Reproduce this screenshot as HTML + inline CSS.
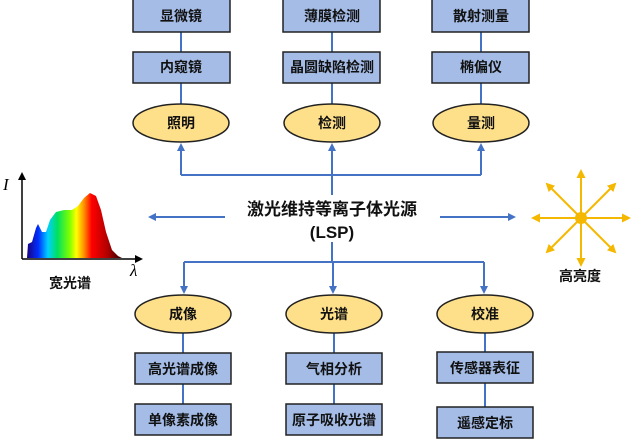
<!DOCTYPE html>
<html><head><meta charset="utf-8"><style>
body{margin:0;background:#fff;}
svg text{font-family:"Liberation Sans","Noto Sans CJK SC",sans-serif;font-weight:bold;}
</style></head><body>
<svg width="639" height="439" viewBox="0 0 639 439" xmlns="http://www.w3.org/2000/svg">
<defs>
<marker id="ab" markerWidth="8" markerHeight="8" refX="6" refY="4" orient="auto" markerUnits="userSpaceOnUse"><path d="M0,0 L8,4 L0,8 z" fill="#4472C4"/></marker>
<marker id="ay" markerWidth="9" markerHeight="9" refX="7" refY="4.5" orient="auto" markerUnits="userSpaceOnUse"><path d="M0,0 L9,4.5 L0,9 z" fill="#F5B800"/></marker>
<marker id="ak" markerWidth="8" markerHeight="8" refX="6" refY="4" orient="auto" markerUnits="userSpaceOnUse"><path d="M0,0 L8,4 L0,8 z" fill="#000"/></marker>
<linearGradient id="sp" x1="0" x2="1" y1="0" y2="0">
<stop offset="0" stop-color="#1a0080"/><stop offset="0.12" stop-color="#0030ff"/><stop offset="0.22" stop-color="#00d0ff"/><stop offset="0.32" stop-color="#00e060"/><stop offset="0.45" stop-color="#80ff00"/><stop offset="0.52" stop-color="#ffff00"/><stop offset="0.6" stop-color="#ff9000"/><stop offset="0.68" stop-color="#ff0000"/><stop offset="0.85" stop-color="#b00000"/><stop offset="1" stop-color="#300000"/></linearGradient>
</defs>
<g stroke="#4472C4" stroke-width="2" fill="none">
<line x1="181" y1="32" x2="181" y2="104"/><line x1="332" y1="32" x2="332" y2="104"/><line x1="481" y1="32" x2="481" y2="104"/>
<polyline points="332,195 332,175"/>
<line x1="181" y1="175" x2="481" y2="175"/>
<line x1="181" y1="175" x2="181" y2="145" marker-end="url(#ab)"/>
<line x1="332" y1="175" x2="332" y2="145" marker-end="url(#ab)"/>
<line x1="481" y1="175" x2="481" y2="145" marker-end="url(#ab)"/>
<line x1="225" y1="217" x2="150" y2="217" marker-end="url(#ab)"/>
<line x1="440" y1="217" x2="514" y2="217" marker-end="url(#ab)"/>
<line x1="332" y1="242" x2="332" y2="262"/>
<line x1="184" y1="262" x2="484" y2="262"/>
<line x1="184" y1="262" x2="184" y2="292" marker-end="url(#ab)"/>
<line x1="333" y1="262" x2="333" y2="292" marker-end="url(#ab)"/>
<line x1="484" y1="262" x2="484" y2="292" marker-end="url(#ab)"/>
<line x1="183" y1="333" x2="183" y2="420"/><line x1="334" y1="333" x2="334" y2="420"/><line x1="485" y1="333" x2="485" y2="420"/>
</g>
<g fill="#A4BCE6" stroke="#222" stroke-width="1.5">
<rect x="133" y="-1" width="97" height="33"/><rect x="283" y="-1" width="97" height="33"/><rect x="432" y="-1" width="97" height="33"/>
<rect x="133" y="52" width="97" height="31"/><rect x="283" y="52" width="97" height="31"/><rect x="432" y="52" width="97" height="31"/>
<rect x="135" y="353" width="96" height="31"/><rect x="286" y="353" width="96" height="31"/><rect x="437" y="352" width="96" height="31"/>
<rect x="135" y="404" width="96" height="31"/><rect x="286" y="404" width="96" height="31"/><rect x="437" y="407" width="96" height="31"/>
</g>
<g fill="#FFE08A" stroke="#222" stroke-width="1.5">
<ellipse cx="181" cy="123" rx="48" ry="19"/><ellipse cx="332" cy="123" rx="48" ry="19"/><ellipse cx="481" cy="123" rx="48" ry="19"/>
<ellipse cx="183" cy="314" rx="48" ry="19"/><ellipse cx="334" cy="314" rx="48" ry="19"/><ellipse cx="485" cy="314" rx="48" ry="19"/>
</g>
<g font-size="14" text-anchor="middle" fill="#111">
<text x="181" y="21">显微镜</text><text x="332" y="21">薄膜检测</text><text x="481" y="21">散射测量</text>
<text x="181" y="72">内窥镜</text><text x="332" y="72">晶圆缺陷检测</text><text x="481" y="72">椭偏仪</text>
<text x="181" y="128">照明</text><text x="332" y="128">检测</text><text x="481" y="128">量测</text>
<text x="183" y="319">成像</text><text x="334" y="319">光谱</text><text x="485" y="319">校准</text>
<text x="183" y="374">高光谱成像</text><text x="334" y="374">气相分析</text><text x="485" y="373">传感器表征</text>
<text x="183" y="425">单像素成像</text><text x="334" y="425">原子吸收光谱</text><text x="485" y="428">遥感定标</text>
<text x="332" y="215" font-size="17">激光维持等离子体光源</text>
<text x="332" y="238" font-size="17">(LSP)</text>
<text x="70" y="288" font-size="14">宽光谱</text>
<text x="580" y="281" font-size="14">高亮度</text>
</g>
<path d="M27,258 L28,244 L32,242 L36,228 L38,224 L42,232 L46,232 L50,220 L56,212 L64,210 L72,210 L78,206 L84,198 L90,193 L96,196 L101,210 L106,232 L112,250 L118,256 L122,258 Z" fill="url(#sp)"/>
<line x1="22" y1="259" x2="22" y2="174" stroke="#000" stroke-width="1.5" marker-end="url(#ak)"/>
<line x1="22" y1="259" x2="141" y2="259" stroke="#000" stroke-width="1.5" marker-end="url(#ak)"/>
<text x="3" y="190" font-size="17" font-style="italic" style="font-family:'Liberation Serif',serif;font-weight:normal">I</text>
<text x="130" y="276" font-size="17" font-style="italic" style="font-family:'Liberation Serif',serif;font-weight:normal">λ</text>
<g stroke="#F5B800" stroke-width="2">
<line x1="581" y1="218" x2="581" y2="171" marker-end="url(#ay)"/>
<line x1="581" y1="218" x2="581" y2="265" marker-end="url(#ay)"/>
<line x1="581" y1="218" x2="533" y2="218" marker-end="url(#ay)"/>
<line x1="581" y1="218" x2="629" y2="218" marker-end="url(#ay)"/>
<line x1="581" y1="218" x2="547" y2="184" marker-end="url(#ay)"/>
<line x1="581" y1="218" x2="615" y2="184" marker-end="url(#ay)"/>
<line x1="581" y1="218" x2="547" y2="252" marker-end="url(#ay)"/>
<line x1="581" y1="218" x2="615" y2="252" marker-end="url(#ay)"/>
</g>
<circle cx="581" cy="218" r="6" fill="#F5B800"/>
</svg>
</body></html>
